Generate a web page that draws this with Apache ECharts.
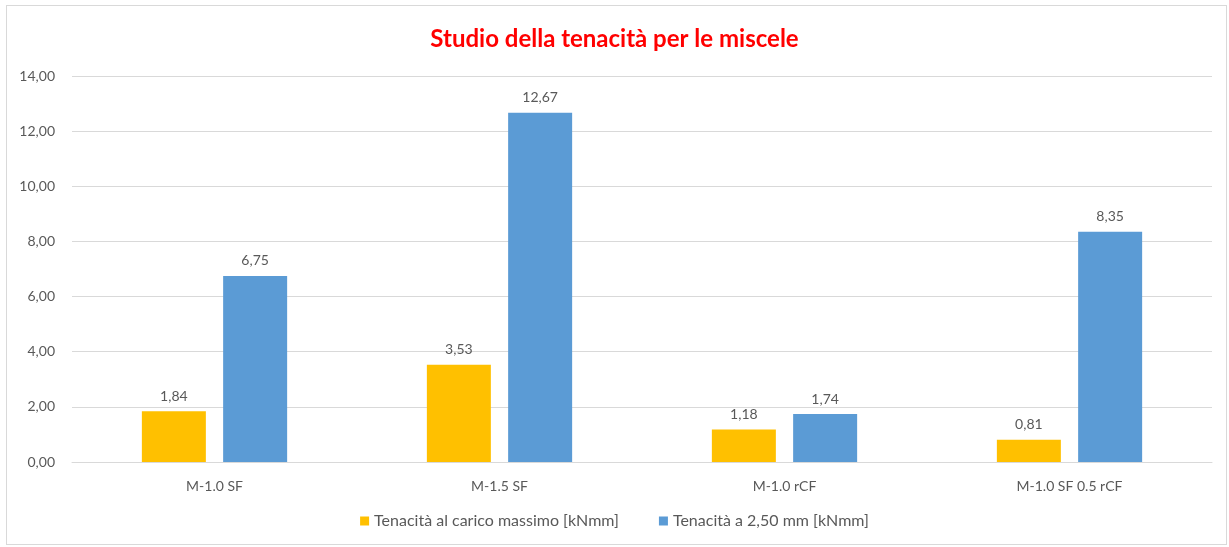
<!DOCTYPE html>
<html>
<head>
<meta charset="utf-8">
<script src="https://cdn.jsdelivr.net/npm/echarts@6/dist/echarts.min.js"></script>
<style>
  html, body { margin: 0; padding: 0; background: #fff; }
  #frame { position: absolute; left: 6px; top: 5px; width: 1221px; height: 540px; border: 1px solid #d9d9d9; box-sizing: border-box; }
  #chart { width: 1229px; height: 547px; position: absolute; left: 0; top: 0; }
</style>
</head>
<body>
<div id="frame"></div>
<div id="chart"></div>
<script>
// Mixtures studied
const categories = ['M-1.0 SF', 'M-1.5 SF', 'M-1.0 rCF', 'M-1.0 SF 0.5 rCF'];
// Toughness at peak load [kNmm]
const toughnessPeak = [1.84, 3.53, 1.18, 0.81];
// Toughness at 2.50 mm [kNmm]
const toughness250 = [6.75, 12.67, 1.74, 8.35];
const seriesNames = ['Tenacità al carico massimo [kNmm]', 'Tenacità a 2,50 mm [kNmm]'];

const fmt = v => v.toFixed(2).replace('.', ',');
const font = 'Lato, "Open Sans", sans-serif';

const chart = echarts.init(document.getElementById('chart'), null, { renderer: 'canvas' });
chart.setOption({
  backgroundColor: 'transparent',
  animation: false,
  title: {
    text: 'Studio della tenacità per le miscele',
    left: 'center',
    top: 22,
    textStyle: { color: '#ff0000', fontSize: 24, fontWeight: 'bold', fontFamily: font }
  },
  legend: {
    bottom: 13,
    left: 'center',
    itemWidth: 9,
    itemHeight: 9,
    itemGap: 40,
    icon: 'rect',
    textStyle: { color: '#595959', fontSize: 16, fontFamily: font }
  },
  grid: { left: 72, right: 17, top: 76, bottom: 85, containLabel: false },
  xAxis: {
    type: 'category',
    data: categories,
    axisLine: { lineStyle: { color: '#d9d9d9' } },
    axisTick: { show: false },
    axisLabel: { color: '#595959', fontSize: 14, fontFamily: font, margin: 17 }
  },
  yAxis: {
    type: 'value',
    min: 0, max: 14, interval: 2,
    axisLine: { show: false },
    axisTick: { show: false },
    splitLine: { lineStyle: { color: '#d9d9d9' } },
    axisLabel: { color: '#595959', fontSize: 14, fontFamily: font, margin: 17, formatter: v => fmt(v) }
  },
  series: [
    {
      name: seriesNames[0], type: 'bar', data: toughnessPeak,
      barWidth: 64, barGap: '27%',
      itemStyle: { color: '#ffc000' },
      label: { show: true, position: 'top', distance: 8, color: '#595959', fontSize: 14, fontFamily: font, formatter: p => fmt(p.value) }
    },
    {
      name: seriesNames[1], type: 'bar', data: toughness250,
      barWidth: 64, barGap: '27%',
      itemStyle: { color: '#5b9bd5' },
      label: { show: true, position: 'top', distance: 8, color: '#595959', fontSize: 14, fontFamily: font, formatter: p => fmt(p.value) }
    }
  ]
});
</script>
</body>
</html>
